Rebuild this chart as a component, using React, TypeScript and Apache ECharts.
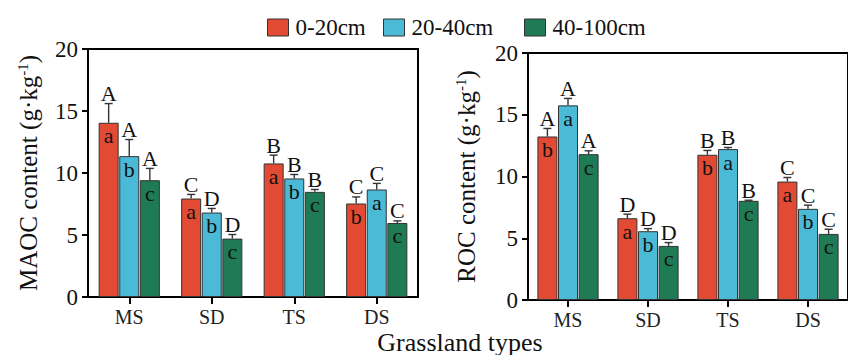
import React, { useEffect, useRef } from "react";
import * as echarts from "echarts";

const categories = ["MS", "SD", "TS", "DS"];
const seriesNames = ["0-20cm", "20-40cm", "40-100cm"];
const colors = ["#E34A33", "#4BBAD6", "#1F7B55"];

// MAOC (left panel)
const maoc0_20 = [14.05, 7.94, 10.77, 7.54];
const maoc20_40 = [11.36, 6.81, 9.56, 8.67];
const maoc40_100 = [9.42, 4.71, 8.48, 5.97];
const maocErr0_20 = [1.55, 0.33, 0.67, 0.53];
const maocErr20_40 = [1.34, 0.33, 0.32, 0.49];
const maocErr40_100 = [0.95, 0.33, 0.19, 0.17];
const maocUpper0_20 = ["A", "C", "B", "C"];
const maocUpper20_40 = ["A", "D", "B", "C"];
const maocUpper40_100 = ["A", "D", "B", "C"];
const maocLower0_20 = ["a", "a", "a", "b"];
const maocLower20_40 = ["b", "b", "b", "a"];
const maocLower40_100 = ["c", "c", "c", "c"];

// ROC (right panel)
const roc0_20 = [13.24, 6.62, 11.76, 9.59];
const roc20_40 = [15.76, 5.57, 12.22, 7.38];
const roc40_100 = [11.81, 4.38, 8.03, 5.35];
const rocErr0_20 = [0.65, 0.33, 0.35, 0.33];
const rocErr20_40 = [0.56, 0.21, 0.13, 0.3];
const rocErr40_100 = [0.27, 0.27, 0.05, 0.38];
const rocUpper0_20 = ["A", "D", "B", "C"];
const rocUpper20_40 = ["A", "D", "B", "C"];
const rocUpper40_100 = ["A", "D", "B", "C"];
const rocLower0_20 = ["b", "a", "b", "a"];
const rocLower20_40 = ["a", "b", "a", "b"];
const rocLower40_100 = ["c", "c", "c", "c"];

const yTicks = [0, 5, 10, 15, 20];

const FONT = "Liberation Serif";
const INK = "#111";
const BAR_W = 20;
const BAR_GAP = "3%";
const OFFSETS = [-20.6, 0, 20.6];

const rt = (size: number, color = INK) => ({ fontSize: size, fontFamily: FONT, color });

function barSeries(idx: number, name: string, values: number[], lowers: string[]) {
  return {
    type: "bar",
    name,
    xAxisIndex: idx,
    yAxisIndex: idx,
    data: values,
    barWidth: BAR_W,
    barGap: BAR_GAP,
    itemStyle: { color: colors[seriesNames.indexOf(name)], borderColor: "#333", borderWidth: 1 },
    label: {
      show: true,
      position: "insideTop",
      distance: 2,
      formatter: (p: any) => `{t|${lowers[p.dataIndex]}}`,
      rich: { t: { ...rt(22), lineHeight: 22 } },
    },
    z: 2,
  };
}

function errSeries(idx: number, k: number, values: number[], errs: number[], uppers: string[]) {
  return {
    type: "custom",
    xAxisIndex: idx,
    yAxisIndex: idx,
    clip: false,
    z: 5,
    silent: true,
    encode: { x: 0, y: 1 },
    data: values.map((v, i) => [i, v, errs[i]]),
    renderItem: (params: any, api: any) => {
      const i = api.value(0);
      const m = api.value(1);
      const e = api.value(2);
      const p0 = api.coord([i, m]);
      const p1 = api.coord([i, m + e]);
      const x = p0[0] + OFFSETS[k];
      const ls = { stroke: "#333", lineWidth: 1.4 };
      return {
        type: "group",
        children: [
          { type: "line", shape: { x1: x, y1: p0[1], x2: x, y2: p1[1] }, style: ls },
          { type: "line", shape: { x1: x - 4, y1: p1[1], x2: x + 4, y2: p1[1] }, style: ls },
          {
            type: "text",
            style: {
              text: uppers[params.dataIndex],
              x,
              y: p1[1] + 1,
              align: "center",
              verticalAlign: "bottom",
              textAlign: "center",
              textVerticalAlign: "bottom",
              font: `22px ${FONT}`,
              fill: INK,
            },
          },
        ],
      };
    },
  };
}

function yAxis(idx: number, label: string, gap: number) {
  return {
    type: "value",
    gridIndex: idx,
    min: 0,
    max: 20,
    interval: 5,
    name: `{t|${label} (g·kg}{s|-1}{t|)}`,
    nameLocation: "middle",
    nameRotate: 90,
    nameGap: gap,
    nameTextStyle: {
      rich: {
        t: { ...rt(25), lineHeight: 27 },
        s: { ...rt(15), verticalAlign: "top", lineHeight: 14 },
      },
    },
    axisLine: { show: true, lineStyle: { color: "#000", width: 2 } },
    axisTick: { show: true, length: 6, lineStyle: { color: "#000", width: 2 } },
    axisLabel: {
      margin: 10,
      formatter: (v: number) => (yTicks.includes(v) ? `{t|${v}}` : ""),
      rich: { t: rt(23) },
    },
    splitLine: { show: false },
  };
}

function xAxis(idx: number) {
  return {
    type: "category",
    gridIndex: idx,
    data: categories,
    axisLine: { show: true, lineStyle: { color: "#000", width: 2 } },
    axisTick: { show: true, alignWithLabel: true, length: 7, lineStyle: { color: "#000", width: 2 } },
    axisLabel: {
      margin: 10,
      formatter: (v: string) => `{t|${v}}`,
      rich: { t: rt(20, "#222") },
    },
  };
}

function legend(name: string, left: number) {
  return {
    data: [name],
    left,
    top: 11,
    itemWidth: 21,
    itemHeight: 17,
    icon: "rect",
    selectedMode: false,
    itemStyle: { borderColor: "#333", borderWidth: 1 },
    formatter: (n: string) => `{t|${n}}`,
    textStyle: { rich: { t: { ...rt(23), padding: [0, 0, 0, 2] } } },
  };
}

export default function App() {
  const ref = useRef<HTMLDivElement>(null);
  useEffect(() => {
    document.body.style.margin = "0";
    document.body.style.overflow = "hidden";
    const chart = echarts.init(ref.current!, undefined, { renderer: "svg" });
    chart.setOption({
      animation: false,
      backgroundColor: "#fff",
      textStyle: { fontFamily: FONT },
      legend: [legend(seriesNames[0], 262), legend(seriesNames[1], 378), legend(seriesNames[2], 519)],
      grid: [
        { left: 88, top: 49, width: 330, height: 248, show: true, borderColor: "#000", borderWidth: 2, backgroundColor: "transparent" },
        { left: 528, top: 53, width: 331, height: 247, show: true, borderColor: "#000", borderWidth: 2, backgroundColor: "transparent" },
      ],
      xAxis: [xAxis(0), xAxis(1)],
      yAxis: [yAxis(0, "MAOC content", 46), yAxis(1, "ROC content", 48)],
      graphic: [
        {
          type: "text",
          x: 460,
          y: 342,
          style: {
            text: "Grassland types",
            font: `26px ${FONT}`,
            fill: INK,
            align: "center",
            verticalAlign: "middle",
            textAlign: "center",
            textVerticalAlign: "middle",
          },
        },
      ],
      series: [
        barSeries(0, seriesNames[0], maoc0_20, maocLower0_20),
        barSeries(0, seriesNames[1], maoc20_40, maocLower20_40),
        barSeries(0, seriesNames[2], maoc40_100, maocLower40_100),
        errSeries(0, 0, maoc0_20, maocErr0_20, maocUpper0_20),
        errSeries(0, 1, maoc20_40, maocErr20_40, maocUpper20_40),
        errSeries(0, 2, maoc40_100, maocErr40_100, maocUpper40_100),
        barSeries(1, seriesNames[0], roc0_20, rocLower0_20),
        barSeries(1, seriesNames[1], roc20_40, rocLower20_40),
        barSeries(1, seriesNames[2], roc40_100, rocLower40_100),
        errSeries(1, 0, roc0_20, rocErr0_20, rocUpper0_20),
        errSeries(1, 1, roc20_40, rocErr20_40, rocUpper20_40),
        errSeries(1, 2, roc40_100, rocErr40_100, rocUpper40_100),
      ],
    });
    return () => chart.dispose();
  }, []);
  return <div ref={ref} style={{ width: 848, height: 355 }} />;
}
